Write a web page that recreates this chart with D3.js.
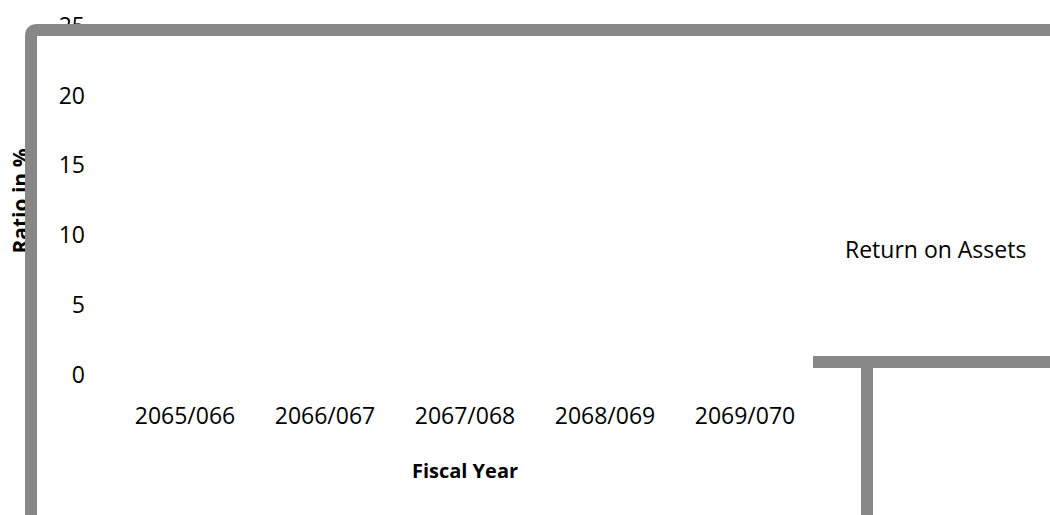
<!DOCTYPE html>
<html>
<head>
<meta charset="utf-8">
<script src="https://cdn.jsdelivr.net/npm/d3@7"></script>
<style>
  html, body { margin: 0; padding: 0; background: #fff; }
  svg { display: block; font-family: "Open Sans", sans-serif; }
</style>
</head>
<body>
<svg id="chart" width="1050" height="515"></svg>
<script>
// Fiscal years on the x axis
const years = ["2065/066", "2066/067", "2067/068", "2068/069", "2069/070"];
// Return on Assets series - nothing is plotted in the picture
const returnOnAssets = [null, null, null, null, null];
const yTicks = [0, 5, 10, 15, 20, 25];
const seriesName = "Return on Assets";

const svg = d3.select("#chart");
const frameColor = "#878787";

// x scale
const x = d3.scaleBand().domain(years).range([115, 815]);

// y scale
const y = d3.scaleLinear().domain([0, 25]).range([375, 26]);

// Axis titles (drawn first, the frame sits over them)
svg.append("text")
  .attr("transform", "translate(28,201) rotate(-90)")
  .attr("text-anchor", "middle")
  .attr("font-weight", "bold")
  .attr("font-size", 21)
  .text("Ratio in %");

svg.append("text")
  .attr("x", 465)
  .attr("y", 478)
  .attr("text-anchor", "middle")
  .attr("font-weight", "bold")
  .attr("font-size", 20)
  .text("Fiscal Year");

// y axis
const yAxis = svg.append("g")
  .attr("transform", "translate(92,0)")
  .call(d3.axisLeft(y).tickValues(yTicks).tickSize(0).tickPadding(7));
yAxis.select(".domain").remove();
yAxis.selectAll("text")
  .attr("font-family", "Open Sans, sans-serif")
  .attr("font-size", 23)
  .attr("fill", "#000");

// x axis
const xAxis = svg.append("g")
  .attr("transform", "translate(0,408)")
  .call(d3.axisBottom(x).tickSize(0).tickPadding(0));
xAxis.select(".domain").remove();
xAxis.selectAll("text")
  .attr("font-family", "Open Sans, sans-serif")
  .attr("font-size", 23)
  .attr("fill", "#000");

// Bars (none visible)
svg.append("g")
  .attr("fill", "#4f81bd")
  .selectAll("rect")
  .data(years.map((d, i) => ({ year: d, value: returnOnAssets[i] })).filter(d => d.value != null))
  .join("rect")
  .attr("x", d => x(d.year) + x.bandwidth() * 0.2)
  .attr("width", x.bandwidth() * 0.6)
  .attr("y", d => y(d.value))
  .attr("height", d => y(0) - y(d.value));

// Legend label
svg.append("text")
  .attr("x", 845)
  .attr("y", 258)
  .attr("font-size", 23)
  .text(seriesName);

// Plot frame (thick gray border with rounded corner)
svg.append("path")
  .attr("d", "M31,515 L31,36 Q31,30 37,30 L1056,30")
  .attr("fill", "none")
  .attr("stroke", frameColor)
  .attr("stroke-width", 12);

// Legend frame
svg.append("path")
  .attr("d", "M813,362 L1056,362 M867,362 L867,520")
  .attr("fill", "none")
  .attr("stroke", frameColor)
  .attr("stroke-width", 12);
</script>
</body>
</html>
